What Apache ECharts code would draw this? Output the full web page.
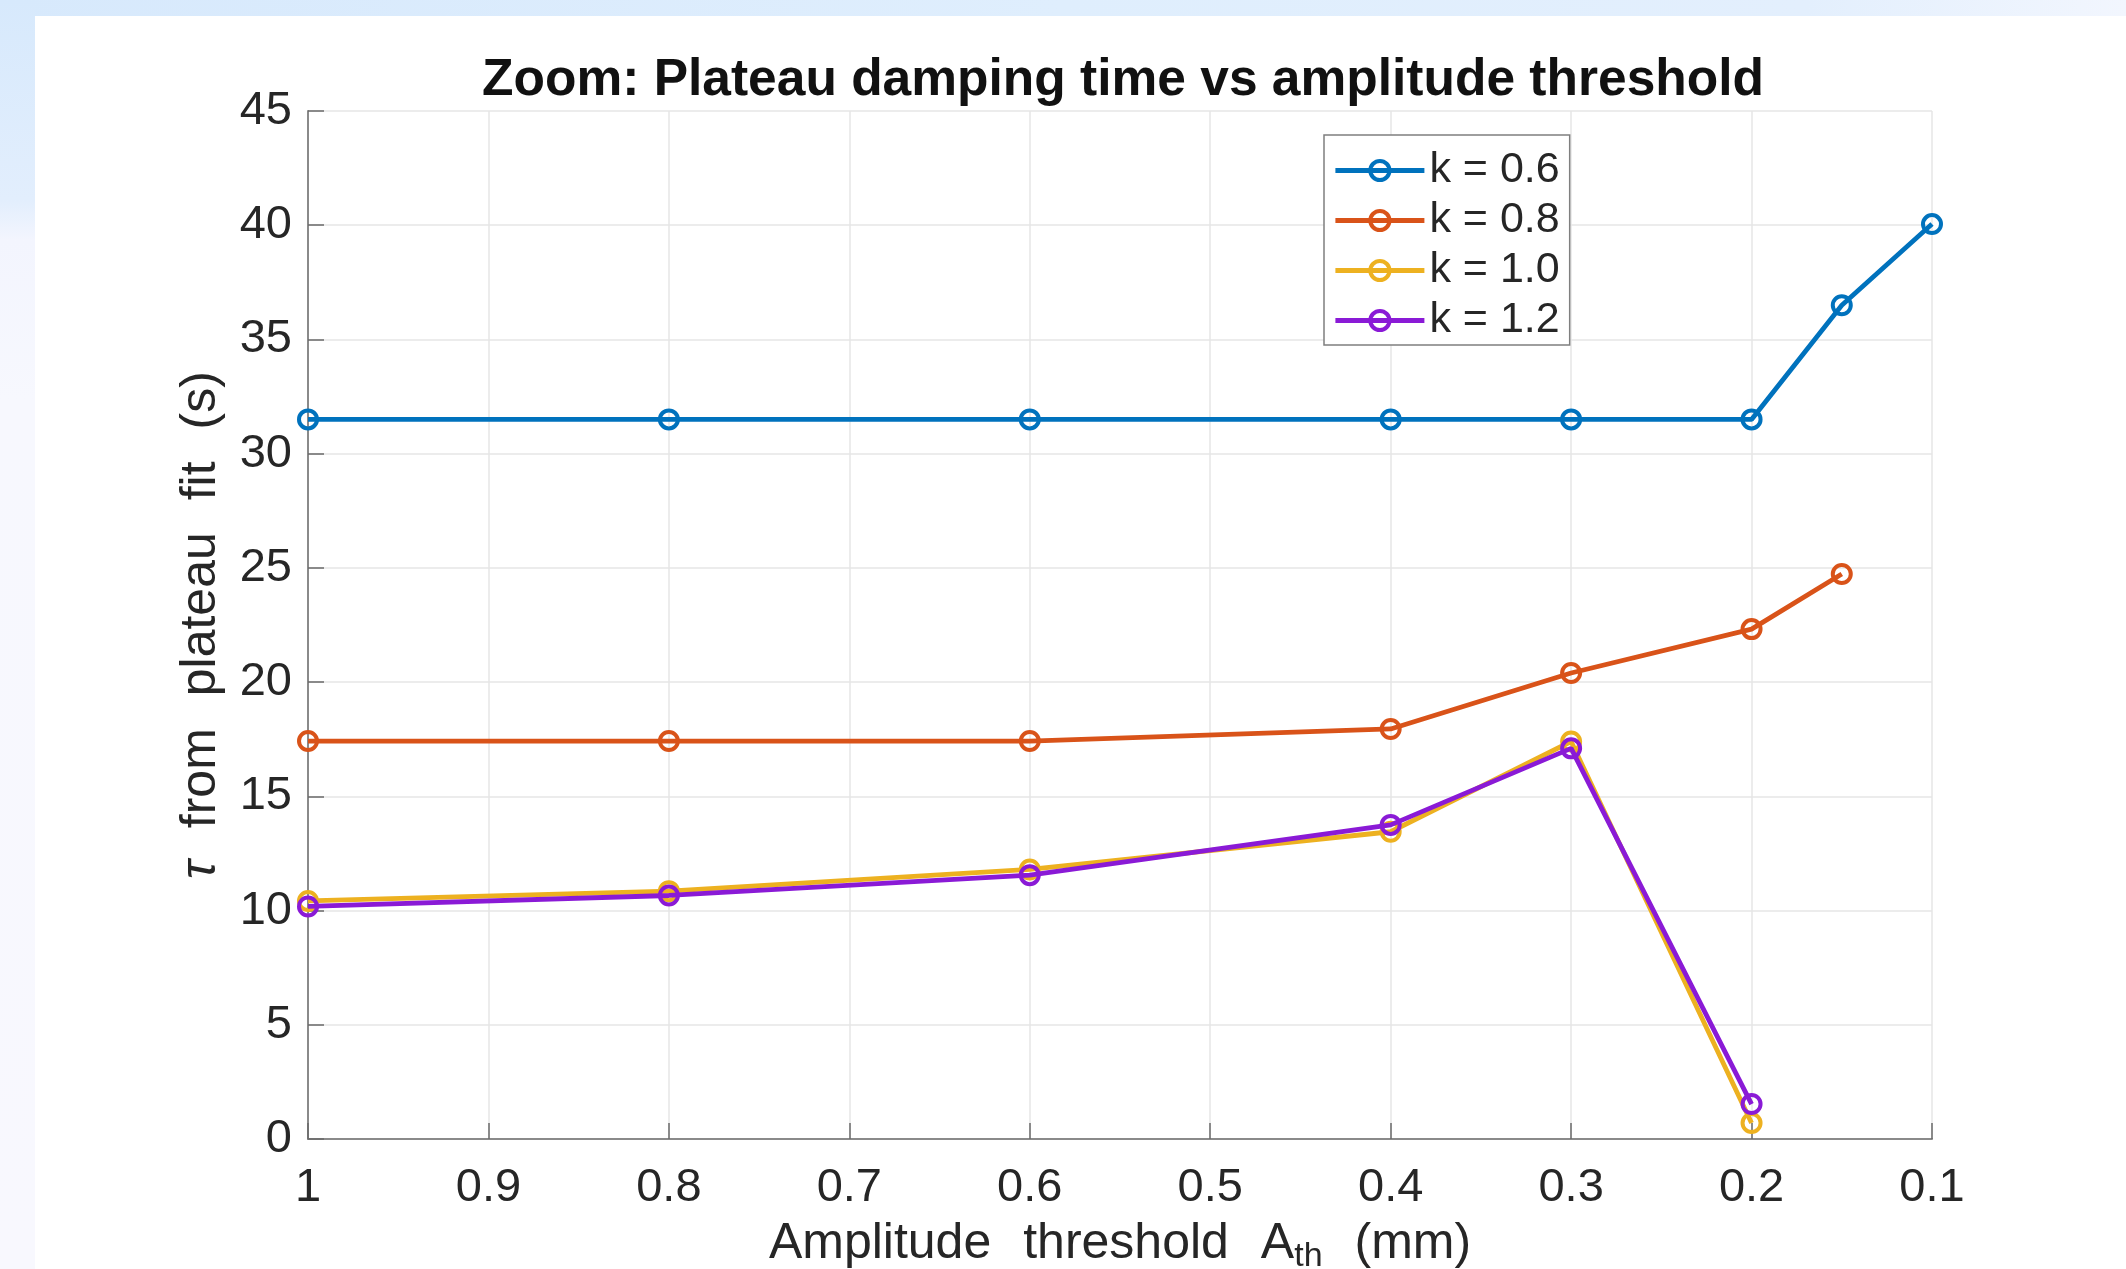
<!DOCTYPE html>
<html>
<head>
<meta charset="utf-8">
<script src="https://cdn.jsdelivr.net/npm/echarts@6/dist/echarts.min.js"></script>
<style>
  html, body { margin: 0; padding: 0; width: 2126px; height: 1269px; overflow: hidden; }
  body { background: #f6f7fe; position: relative; }
  #topband { position: absolute; left: 0; top: 0; width: 2126px; height: 16px;
    background: linear-gradient(90deg, #d7e9fc 0%, #dfeefd 50%, #e3effd 85%, #f2f6fe 100%); }
  #leftband { position: absolute; left: 0; top: 0; width: 35px; height: 1269px;
    background: linear-gradient(180deg, #d7e9fc 0px, #e2eefd 200px, #f3f5fe 240px, #f7f8fe 400px, #f8f8fe 1269px); }
  #card { position: absolute; left: 35px; top: 16px; right: 0; bottom: 0; background: #ffffff; }
  #chart { position: absolute; left: 0; top: 0; width: 2126px; height: 1269px; }
</style>
</head>
<body>
<div id="topband"></div>
<div id="leftband"></div>
<div id="card"></div>
<div id="chart"></div>
<script>
// ---- data ----
const thresholds = [1, 0.8, 0.6, 0.4, 0.3, 0.2, 0.15, 0.1];
const seriesNames = ['k = 0.6', 'k = 0.8', 'k = 1.0', 'k = 1.2'];
const tauK06 = [31.5, 31.5, 31.5, 31.5, 31.5, 31.5, 36.5, 40.05];
const tauK08 = [17.42, 17.42, 17.42, 17.95, 20.4, 22.32, 24.73];
const tauK10 = [10.42, 10.85, 11.8, 13.45, 17.4, 0.7];
const tauK12 = [10.18, 10.66, 11.55, 13.75, 17.1, 1.53];
const colors = ['#0072BD', '#D95319', '#EDB120', '#8A1AD6'];
const xTicks = [1, 0.9, 0.8, 0.7, 0.6, 0.5, 0.4, 0.3, 0.2, 0.1];
const yTicks = [0, 5, 10, 15, 20, 25, 30, 35, 40, 45];

const FONT = '"Liberation Sans", Helvetica, Arial, sans-serif';
const allTau = [tauK06, tauK08, tauK10, tauK12];

function pairs(vals) {
  return vals.map((v, i) => [thresholds[i], v]);
}

const series = allTau.map((vals, i) => ({
  name: seriesNames[i],
  type: 'line',
  data: pairs(vals),
  symbol: 'circle',
  symbolSize: 18,
  showSymbol: true,
  lineStyle: { color: colors[i], width: 4.8 },
  itemStyle: { color: 'rgba(255,255,255,0)', borderColor: colors[i], borderWidth: 4 },
  emphasis: { disabled: true },
  animation: false,
  z: 2 + i
}));

const chart = echarts.init(document.getElementById('chart'), null, { renderer: 'canvas' });
chart.setOption({
  backgroundColor: 'transparent',
  animation: false,
  color: colors,
  title: {
    text: 'Zoom: Plateau damping time vs amplitude threshold',
    left: 1118,
    top: 50,
    textAlign: 'center',
    textStyle: { fontFamily: FONT, fontSize: 51.5, fontWeight: 'bold', color: '#111' }
  },
  legend: {
    orient: 'vertical',
    left: 1324,
    top: 135,
    padding: [14, 10, 3, 9],
    itemWidth: 89,
    itemHeight: 24,
    itemGap: 7,
    backgroundColor: '#ffffff',
    borderColor: '#7f7f7f',
    borderWidth: 1.5,
    borderRadius: 0,
    data: seriesNames,
    lineStyle: { width: 4.8 },
    itemStyle: { borderWidth: 4 },
    textStyle: { fontFamily: FONT, fontSize: 43, color: '#262626', lineHeight: 41 }
  },
  grid: { left: 308, top: 111, right: 194, bottom: 130, containLabel: false, outerBoundsMode: 'none' },
  xAxis: {
    type: 'value',
    inverse: true,
    min: 0.1,
    max: 1,
    interval: 0.1,
    name: 'Amplitude  \u200athreshold  \u200aA{sub|th}  \u200a(mm)',
    nameLocation: 'middle',
    nameGap: 75,
    nameTextStyle: {
      fontFamily: FONT, fontSize: 50, color: '#262626',
      rich: { sub: { fontFamily: FONT, fontSize: 34, color: '#262626', verticalAlign: 'bottom', padding: [26, 0, 0, 0] } }
    },
    axisLine: { show: true, lineStyle: { color: '#8a8a8a', width: 2 } },
    axisTick: { show: true, inside: true, length: 16, lineStyle: { color: '#6a6a6a', width: 1.5 } },
    axisLabel: {
      fontFamily: FONT, fontSize: 47, color: '#262626', margin: 26,
      formatter: v => {
        const idx = xTicks.findIndex(t => Math.abs(t - v) < 1e-6);
        return idx >= 0 ? String(xTicks[idx]) : '';
      }
    },
    splitLine: { show: true, lineStyle: { color: '#e6e6e6', width: 1.5 } }
  },
  yAxis: {
    type: 'value',
    min: 0,
    max: 45,
    interval: 5,
    name: '{i|\u03c4}  \u200afrom  \u200aplateau  \u200afit  \u200a(s)',
    nameLocation: 'middle',
    nameGap: 82,
    nameTextStyle: {
      fontFamily: FONT, fontSize: 50, color: '#262626',
      rich: { i: { fontFamily: FONT, fontSize: 50, fontStyle: 'italic', color: '#262626' } }
    },
    axisLine: { show: true, lineStyle: { color: '#8a8a8a', width: 2 } },
    axisTick: { show: true, inside: true, length: 16, lineStyle: { color: '#6a6a6a', width: 1.5 } },
    axisLabel: {
      fontFamily: FONT, fontSize: 47, color: '#262626', margin: 16,
      formatter: v => {
        const idx = yTicks.indexOf(Math.round(v));
        return idx >= 0 ? String(yTicks[idx]) : '';
      }
    },
    splitLine: { show: true, lineStyle: { color: '#e6e6e6', width: 1.5 } }
  },
  series: series
});
</script>
</body>
</html>
